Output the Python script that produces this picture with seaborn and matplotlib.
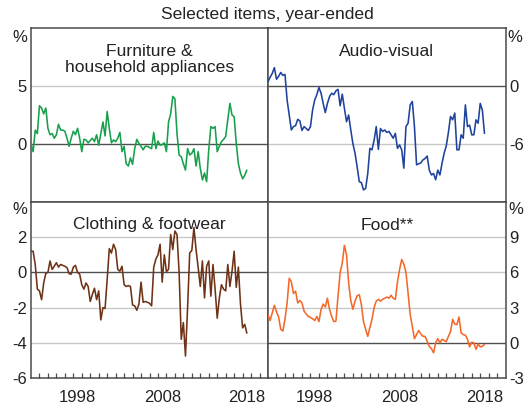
import numpy as np
import pandas as pd
import matplotlib
matplotlib.use("Agg")
import matplotlib.pyplot as plt
import seaborn as sns

# ---------------- data (quarterly, year-ended % change, 1993Q1 onwards) ----------------
start_quarter = "1993Q1"

furniture = [0.0, -0.66, 1.2, 0.9, 3.3, 3.1, 2.6, 3.1, 1.35, 0.8,
             0.9, 0.5, 0.8, 1.7, 1.2, 1.2, 1.1, 0.5, -0.2, 0.5,
             1.1, 0.8, 1.35, 0.5, -0.66, 0.4, 0.35, 0.1, 0.3, 0.5, 0.2,
             0.8, -0.1, 0.9, 1.9, 0.7, 2.8, 1.35, 0.1, 0.35, 0.2,
             0.5, 1.0, -0.66, -0.2, -1.7, -1.9, -1.2, -1.75, -0.4, 0.4,
             0.05, -0.2, -0.5, -0.2, -0.2, -0.3, -0.4, 1.0, -0.4, 0.25, -0.1,
             -0.05, 0.1, -0.66, 1.9, 2.6, 4.1, 3.9, 0.9, -0.95, -1.1,
             -1.7, -2.25, -0.4, -0.95, -0.8, -0.4, -1.9, -0.66, -2.1, -3.1,
             -2.5, -3.25, -0.5, 1.5, 1.35, 1.5, -0.66, -0.2, 0.2, 0.4, 0.65,
             2.1, 3.5, 2.5, 2.35, 0.05, -1.7, -2.5, -3.0, -2.7, -2.25]

audio_visual = [0.45, 0.9, 1.3, 1.9, 0.7, 1.0, 1.4, 1.1, 1.2, -1.45,
                -3.0, -4.55, -4.2, -4.1, -3.45, -3.6, -4.6, -4.2, -4.4, -4.6, -4.2,
                -2.5, -1.45, -0.9, -0.15, -0.75, -1.8, -2.75, -1.8, -1.1, -0.75,
                -0.9, -0.5, -0.35, -2.05, -0.85, -2.3, -3.7, -3.0, -4.55, -5.95,
                -6.95, -8.35, -9.9, -10.0, -10.75, -10.6, -9.05, -6.45, -6.6, -5.6,
                -4.2, -6.55, -4.4, -4.7, -4.55, -4.8, -4.7, -5.05, -5.4, -4.9,
                -6.45, -6.1, -6.6, -8.5, -4.2, -3.85, -1.95, -1.6, -4.2, -8.15,
                -8.05, -7.95, -7.65, -7.5, -7.25, -8.7, -9.2, -9.05, -9.7, -8.7, -9.2,
                -8.0, -6.95, -6.2, -4.8, -3.15, -3.5, -2.8, -6.6, -6.6, -5.05,
                -5.4, -1.95, -4.2, -4.05, -5.05, -5.05, -3.5, -3.85, -1.8, -2.5,
                -4.9]

clothing = [1.2, 1.2, 0.45, -0.95, -1.05, -1.55, -0.6, -0.05, 0.0, 0.65,
            0.17, 0.35, 0.55, 0.3, 0.45, 0.4, 0.35, 0.27, -0.07, -0.1, 0.3,
            0.4, 0.0, -0.1, -0.7, -0.95, -0.6, -0.8, -1.65, -1.25, -0.9,
            -1.55, -1.05, -2.7, -2.0, -2.05, -0.4, 1.35, 1.1, 1.6, 1.3,
            0.17, 0.07, 0.35, -0.7, -0.8, -0.75, -0.8, -1.85, -1.9, -2.15,
            -1.8, -0.55, -1.7, -1.65, -1.7, -1.75, -1.9, 0.3, 0.75, 1.0, 1.6,
            -0.55, 1.0, 0.05, 0.17, 2.15, 1.3, 2.35, 2.15, 0.0, -3.8,
            -2.85, -4.75, -2.0, 1.1, 1.25, 2.55, 1.3, 0.27, -0.8, 0.65,
            -1.45, 0.35, 0.65, -1.35, 0.45, -0.95, -2.6, -1.45, -0.7, -0.95,
            -1.05, 0.45, -0.8, 0.07, 1.2, -0.85, 0.3, -1.8, -3.15, -2.95,
            -3.45]

food = [2.4, 1.9, 2.55, 3.2, 2.65, 2.2, 1.15, 1.0, 2.0, 3.4,
        5.5, 5.2, 4.2, 4.4, 3.4, 3.6, 3.4, 2.7, 2.45, 2.25, 2.15,
        2.05, 1.9, 2.25, 1.8, 2.85, 3.3, 3.05, 3.8, 2.85, 2.25,
        1.8, 1.85, 4.0, 6.0, 6.8, 8.3, 7.5, 5.1, 3.6, 2.85,
        3.55, 4.0, 4.1, 3.25, 1.8, 1.15, 0.55, 1.3, 2.0, 3.0,
        3.55, 3.7, 3.55, 3.7, 3.8, 3.9, 3.8, 4.05, 3.8, 3.7, 5.2,
        6.25, 7.1, 6.7, 6.0, 4.25, 2.4, 1.4, 0.35, 0.7, 1.05,
        0.75, 0.55, 0.55, 0.15, -0.3, -0.5, -0.85, 0.0, 0.35, 0.0,
        0.3, 0.2, 0.1, 0.55, 0.95, 2.0, 1.6, 1.55, 2.2, 0.85, 0.7,
        0.65, 0.3, -0.35, 0.05, 0.0, -0.55, -0.1, -0.35, -0.3, -0.15]

titles = ["Furniture &\nhousehold appliances", "Audio-visual",
          "Clothing & footwear", "Food**"]
series = [furniture, audio_visual, clothing, food]
colors = ["#17a04c", "#1f429c", "#6e3216", "#f4692b"]
ylims = [(-5, 10), (-12, 6), (-6, 4), (-3, 12)]
yticks = [[0, 5], [-6, 0], [-6, -4, -2, 0, 2], [-3, 0, 3, 6, 9]]
xtick_years = [1998, 2008, 2018]
main_title = "Selected items, year-ended"

# ---------------- figure ----------------
sns.set_style("white")
plt.rcParams["font.family"] = ["Liberation Sans", "DejaVu Sans"]

W, H = 532, 405
fig = plt.figure(figsize=(W / 100, H / 100), dpi=100)

xl, xm, xr = 31, 268, 505.7
yt, ym, yb = 28, 202, 378
boxes = [(xl, yt, xm, ym), (xm, yt, xr, ym), (xl, ym, xm, yb), (xm, ym, xr, yb)]

frame_col = "#4a4a4a"
grid_col = "#c8c8c8"
text_col = "#222222"

for k, (x0, y0, x1, y1) in enumerate(boxes):
    ax = fig.add_axes([x0 / W, 1 - y1 / H, (x1 - x0) / W, (y1 - y0) / H])
    q = pd.period_range(start_quarter, periods=len(series[k]), freq="Q")
    df = pd.DataFrame({"year": q.year + (q.quarter - 1) / 4.0, "value": series[k]})
    lo, hi = ylims[k]
    for t in yticks[k]:
        if lo < t < hi:
            if t == 0:
                ax.axhline(t, color="#505050", lw=1.0, zorder=1)
            else:
                ax.axhline(t, color=grid_col, lw=1.0, zorder=1)
    sns.lineplot(data=df, x="year", y="value", ax=ax, color=colors[k],
                 lw=1.15, zorder=3, legend=False)
    ax.set_xlim(1993, 2021)
    ax.set_ylim(lo, hi)
    ax.set_xlabel("")
    ax.set_ylabel("")
    for s in ax.spines.values():
        s.set_color(frame_col)
        s.set_linewidth(1.1)
        s.set_visible(True)
    ax.set_yticks(yticks[k])
    ax.set_yticklabels([str(t) for t in yticks[k]])
    right = k % 2 == 1
    ax.tick_params(axis="y", length=0, labelsize=12, colors=text_col,
                   labelleft=not right, labelright=right, pad=3 if not right else 2.5)
    bottom = k >= 2
    if bottom:
        ax.set_xticks([y + 0.5 for y in xtick_years])
        ax.set_xticklabels([str(y) for y in xtick_years])
        ax.set_xticks(np.arange(1994, 2021), minor=True)
        ax.tick_params(axis="x", which="major", length=0, labelsize=12,
                       colors=text_col, pad=8.5)
        ax.tick_params(axis="x", which="minor", length=3.8, width=0.9,
                       direction="in", color=frame_col, bottom=True)
    else:
        ax.set_xticks([])
    ax.text(0.5, 1 - (15.5 / (y1 - y0)), titles[k], transform=ax.transAxes,
            ha="center", va="top", fontsize=12.6, color=text_col, linespacing=1.15)

# percent unit labels
for (px, py) in [(19.5, 37), (515, 37), (19.5, 210), (516, 210)]:
    fig.text(px / W, 1 - py / H, "%", ha="center", va="center",
             fontsize=12, color=text_col)

fig.text(267 / W, 1 - 14 / H, main_title, ha="center", va="center",
         fontsize=12.6, color=text_col)

fig.savefig("out.png", dpi=100)
